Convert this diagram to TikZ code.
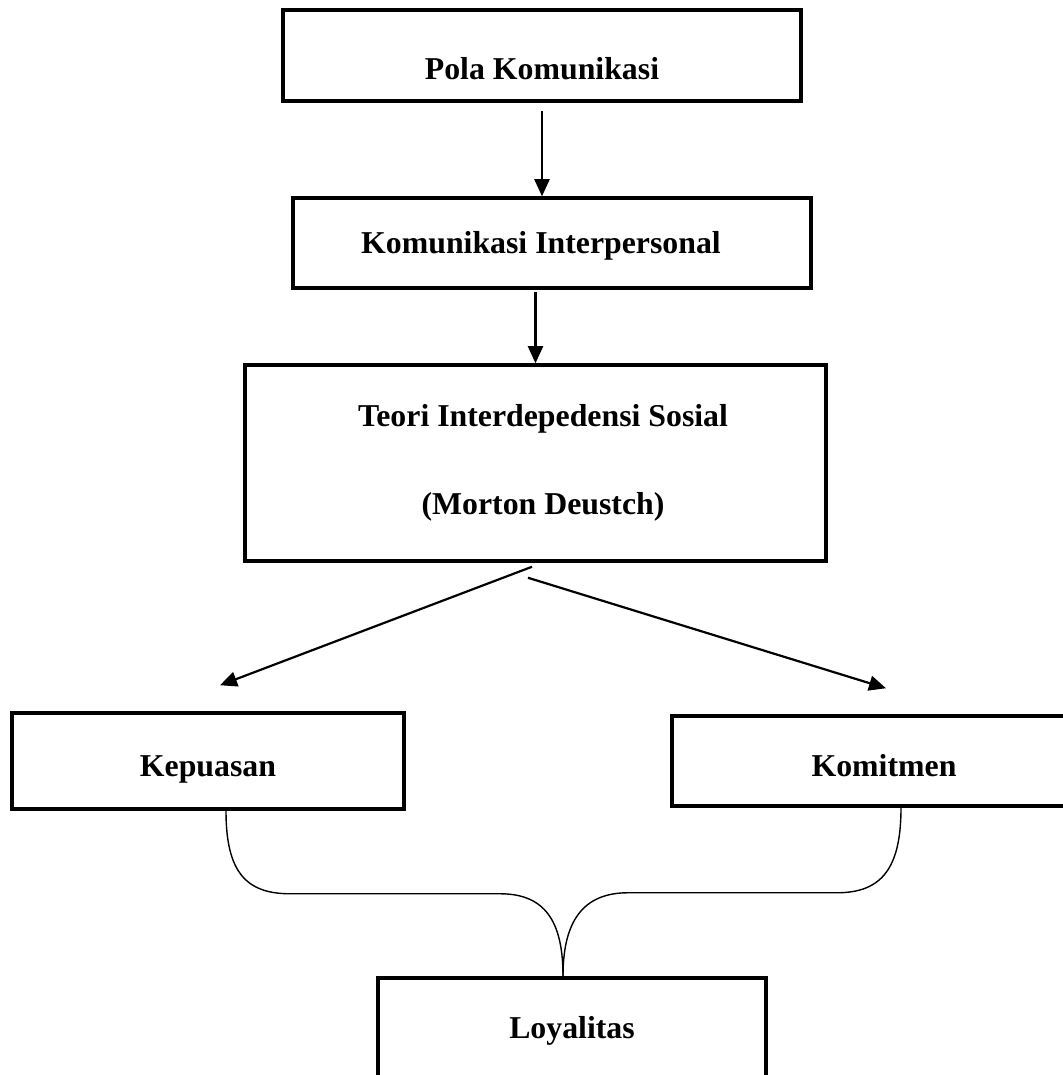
\documentclass[tikz,border=0pt]{standalone}
\usepackage{fontspec}
\setmainfont{Liberation Serif}
\usepackage{tikz}
\usetikzlibrary{arrows.meta}
\usetikzlibrary{positioning}
\tikzset{
    block/.style={
           rectangle,
           draw=black, line width=2pt,
           inner sep=0pt,
           text depth=0pt,
           font=\fontsize{18.1}{21.7}\selectfont\bfseries,
           text centered},
    flow/.style={-{Triangle[length=0.34cm,width=0.3cm]}, line width=1.25pt},
    bracelink/.style={line width=0.8pt},
}

\begin{document}
\begin{tikzpicture}
 \useasboundingbox (0,0) rectangle (21.24,-21.5);

 \node[block,
 minimum width=10.36cm,
 minimum height=1.82cm,
 text height=0.96cm] (POLA) at (10.84,-1.11)
 {Pola Komunikasi};

 \node[block,
 below of=POLA,
 node distance=3.75cm,
 xshift=0.2cm,
 minimum width=10.36cm,
 minimum height=1.8cm,
 text height=0.42cm] (INTERPERSONAL)
 {Komunikasi Interpersonal\hspace*{0.44cm}};

 \node[block,
 below of=INTERPERSONAL,
 node distance=4.4cm,
 xshift=-0.33cm,
 align=center,
 minimum width=11.62cm,
 minimum height=3.92cm,
 text depth={}] (TEORI)
 {\hspace*{0.3cm}Teori Interdepedensi Sosial\\[1cm]
  \hspace*{0.3cm}(Morton Deustch)};

 \node[block,
 below of=TEORI,
 node distance=5.96cm,
 xshift=-6.55cm,
 minimum width=7.84cm,
 minimum height=1.92cm,
 text height=0.62cm] (KEPUASAN)
 {Kepuasan};

 \node[block,
 right of=KEPUASAN,
 node distance=13.52cm,
 minimum width=8.48cm,
 minimum height=1.8cm,
 text height=0.62cm] (KOMITMEN)
 {Komitmen};

 \node[block,
 below of=TEORI,
 node distance=11.3cm,
 xshift=0.73cm,
 minimum width=7.76cm,
 minimum height=2cm,
 text height=0.42cm] (LOYALITAS)
 {Loyalitas};

 % arrows
 \draw[flow, shorten <=0.16cm] (POLA.south) -- (POLA.south |- INTERPERSONAL.north);
 \draw[flow, shorten <=0.04cm] (TEORI.north |- INTERPERSONAL.south) -- (TEORI.north);
 \draw[flow] ([xshift=-0.07cm,yshift=-0.08cm]TEORI.south) -- ([xshift=0.24cm,yshift=0.52cm]KEPUASAN.north);
 \draw[flow] ([xshift=-0.15cm,yshift=-0.3cm]TEORI.south) -- ([xshift=0.04cm,yshift=0.52cm]KOMITMEN.north);

 % brace to loyalitas
 \draw[bracelink] ([xshift=0.36cm]KEPUASAN.south) .. controls +(0,-1.2) and +(-0.9,0) .. ++(1.28,-1.66)
  -- ++(4.2,0) .. controls +(0.9,0) and +(0,1.1) .. ([xshift=-0.18cm]LOYALITAS.north);
 \draw[bracelink] ([xshift=0.34cm]KOMITMEN.south) .. controls +(0,-1.2) and +(0.9,0) .. ++(-1.28,-1.7)
  -- ++(-4.18,0) .. controls +(-0.9,0) and +(0,1.1) .. ([xshift=-0.18cm]LOYALITAS.north);

\end{tikzpicture}
\end{document}
